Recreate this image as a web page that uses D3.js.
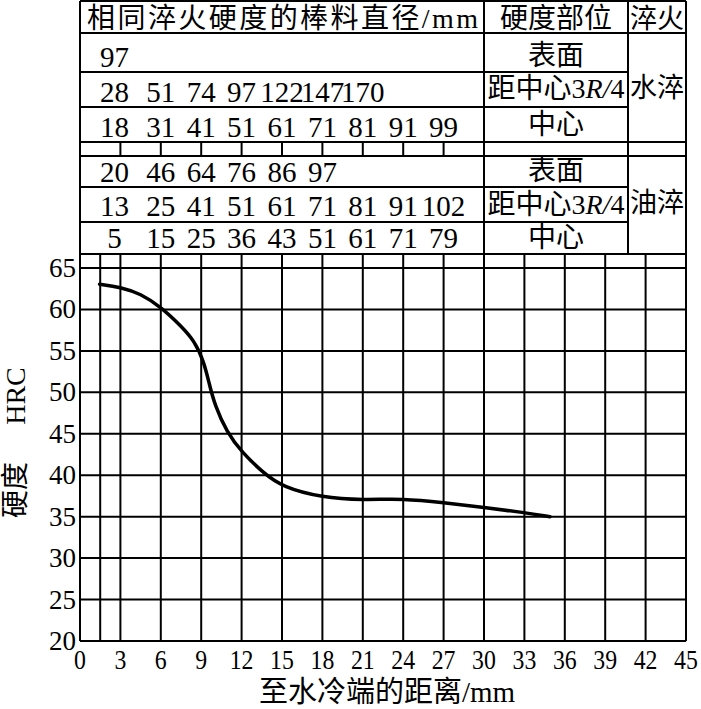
<!DOCTYPE html>
<html>
<head>
<meta charset="utf-8">
<script src="https://cdn.jsdelivr.net/npm/d3@7"></script>
<style>
body { margin: 0; background: #fff; }
svg text { font-family: "Liberation Serif", "Noto Sans CJK SC", serif; fill: #000; }
</style>
</head>
<body>
<svg width="701" height="709"></svg>
<script>
// end-quench hardness curve
var distance = [1.45, 3.0, 4.5, 6.0, 7.5, 8.5, 9.2, 9.6, 10.0, 10.9, 12.0, 13.6, 15.0, 18, 21, 24, 27, 30, 33, 34.9];
var hardness = [63.05, 62.7, 61.9, 60.3, 58.0, 56.2, 53.7, 51.0, 48.5, 45.2, 42.8, 40.3, 38.6, 37.3, 37.0, 37.2, 36.7, 36.1, 35.5, 35.0];

// bar diameters with the same hardness (table rows), placed at 3, 6, 9 ... mm
var waterSurface = [97];
var water34 = [28, 51, 74, 97, 122, 147, 170];
var waterCenter = [18, 31, 41, 51, 61, 71, 81, 91, 99];
var oilSurface = [20, 46, 64, 76, 86, 97];
var oil34 = [13, 25, 41, 51, 61, 71, 81, 91, 102];
var oilCenter = [5, 15, 25, 36, 43, 51, 61, 71, 79];

var xTicks = d3.range(0, 46, 3);
var yTicks = d3.range(20, 66, 5);
var xGrid = [1.5].concat(d3.range(3, 45, 3));

var svg = d3.select("svg");

var x = d3.scaleLinear().domain([0, 45]).range([80, 686]);
var y = d3.scaleLinear().domain([20, 65]).range([641, 268]);

var plotTop = 254, tableTop = 1;
var colA = x(30), colB = 628, right = x(45), left = x(0);

function hline(y0, x1, x2) {
    svg.append("line").attr("x1", x1).attr("x2", x2).attr("y1", y0).attr("y2", y0)
        .attr("stroke", "#000").attr("stroke-width", 2);
}
function vline(x0, y1, y2) {
    svg.append("line").attr("x1", x0).attr("x2", x0).attr("y1", y1).attr("y2", y2)
        .attr("stroke", "#000").attr("stroke-width", 2);
}

// ---- plot grid
yTicks.forEach(function (v) { hline(y(v), left, right); });
xGrid.forEach(function (v) { vline(x(v), plotTop, y(20)); });
hline(plotTop, left, right);
vline(left, tableTop, y(20));
vline(right, tableTop, y(20));

// ---- table lines
hline(tableTop, left, right);
hline(33, left, right);
hline(72, left, colB);
hline(107, left, colB);
hline(142, left, right);
hline(156, left, right);
hline(187, left, colB);
hline(222, left, colB);
vline(colA, tableTop, plotTop);
vline(colB, tableTop, plotTop);
d3.range(3, 30, 3).forEach(function (v) { vline(x(v), 142, 156); });

// ---- table text
svg.append("text").attr("x", 87).attr("y", 28)
    .attr("textLength", 391).attr("lengthAdjust", "spacing")
    .style("font-size", "28px").text("相同淬火硬度的棒料直径/mm");
svg.append("text").attr("x", (colA + colB) / 2).attr("y", 28).attr("text-anchor", "middle")
    .style("font-size", "28px").text("硬度部位");
svg.append("text").attr("x", (colB + right) / 2).attr("y", 28).attr("text-anchor", "middle")
    .style("font-size", "27px").text("淬火");

function numberRow(values, base) {
    svg.append("g").selectAll("text")
        .data(values)
        .enter().append("text")
        .attr("x", function (d, i) { return x(3 * (i + 1)) - (i == 0 ? 6 : 0); })
        .attr("y", base)
        .attr("text-anchor", "middle")
        .style("font-size", "29px")
        .text(function (d) { return d; });
}
numberRow(waterSurface, 67);
numberRow(water34, 102);
numberRow(waterCenter, 137);
numberRow(oilSurface, 182);
numberRow(oil34, 216);
numberRow(oilCenter, 248);

function place(label, cy) {
    var t = svg.append("text").attr("x", (colA + colB) / 2).attr("y", cy)
        .attr("text-anchor", "middle").attr("dominant-baseline", "central")
        .style("font-size", "28px");
    if (label == "3R") {
        t.append("tspan").text("距中心3");
        t.append("tspan").style("font-style", "italic").text("R/");
        t.append("tspan").text("4");
    } else {
        t.text(label);
    }
}
place("表面", 55);
place("3R", 88);
place("中心", 124);
place("表面", 170);
place("3R", 204);
place("中心", 237);

svg.append("text").attr("x", (colB + right) / 2).attr("y", 88)
    .attr("text-anchor", "middle").attr("dominant-baseline", "central")
    .style("font-size", "27px").text("水淬");
svg.append("text").attr("x", (colB + right) / 2).attr("y", 203)
    .attr("text-anchor", "middle").attr("dominant-baseline", "central")
    .style("font-size", "27px").text("油淬");

// ---- axis labels
svg.append("g").selectAll("text")
    .data(yTicks).enter().append("text")
    .attr("x", 76).attr("y", function (d) { return y(d) + 9; })
    .attr("text-anchor", "end").style("font-size", "27px")
    .text(function (d) { return d; });

svg.append("g").selectAll("text")
    .data(xTicks).enter().append("text")
    .attr("transform", function (d) { return "translate(" + x(d) + ",669) scale(0.85,1)"; })
    .attr("text-anchor", "middle").style("font-size", "28px")
    .text(function (d) { return d; });

svg.append("text").attr("x", (left + right) / 2 + 4).attr("y", 702)
    .attr("text-anchor", "middle").style("font-size", "29px")
    .text("至水冷端的距离/mm");

// y title: two pieces with a wide gap
svg.append("text").attr("transform", "translate(25,490) rotate(-90)")
    .attr("text-anchor", "middle").style("font-size", "28px")
    .text("硬度");
svg.append("text").attr("transform", "translate(25,396) rotate(-90)")
    .attr("text-anchor", "middle").style("font-size", "28px")
    .text("HRC");

// ---- curve
var line = d3.line()
    .x(function (d, i) { return x(distance[i]); })
    .y(function (d, i) { return y(hardness[i]); })
    .curve(d3.curveBasis);

svg.append("path")
    .datum(distance)
    .attr("d", line)
    .attr("fill", "none")
    .attr("stroke", "#000")
    .attr("stroke-width", 3.5)
    .attr("stroke-linecap", "round");
</script>
</body>
</html>
